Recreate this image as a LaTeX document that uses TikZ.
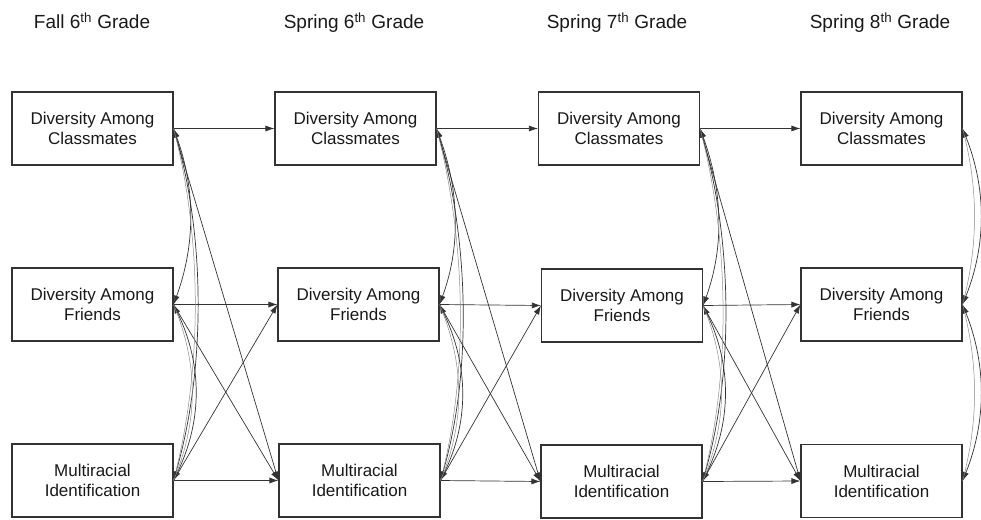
\documentclass[tikz,border=0pt]{standalone}
\usepackage{fontspec}
\setmainfont{Liberation Sans}
\usetikzlibrary{arrows.meta}
\definecolor{ln}{HTML}{333333}
\tikzset{
  box/.style={draw=ln, line width=1.1pt, minimum width=161pt, minimum height=73pt,
    inner sep=0pt, align=center, font=\fontsize{17}{20}\selectfont, text=black!90},
  head/.style={font=\fontsize{19}{22}\selectfont, text=black!90, inner sep=0pt, anchor=base},
  path/.style={draw=ln, line width=0.7pt, -{Latex[length=9pt,width=6pt]}},
  corr/.style={draw=ln, line width=0.7pt, {Latex[length=9pt,width=6pt]}-{Latex[length=9pt,width=6pt]}},
  faint/.style={draw=black!45, line width=0.5pt}
}
\begin{document}
\begin{tikzpicture}[x=1pt,y=-1pt]
\useasboundingbox (0,0) rectangle (981,519);
% headings
\node[head] (h1) at (92,29) {Fall 6\textsuperscript{th} Grade};
\node[head] (h2) at (354,29) {Spring 6\textsuperscript{th} Grade};
\node[head] (h3) at (617,29) {Spring 7\textsuperscript{th} Grade};
\node[head] (h4) at (880,29) {Spring 8\textsuperscript{th} Grade};
% boxes
\node[box] (C1) at (92.5,128.5) {Diversity Among\\Classmates};
\node[box] (F1) at (92.5,304.5) {Diversity Among\\Friends};
\node[box] (M1) at (92.5,480.5) {Multiracial\\Identification};
\node[box] (C2) at (355.5,128.5) {Diversity Among\\Classmates};
\node[box] (F2) at (358.5,304.5) {Diversity Among\\Friends};
\node[box] (M2) at (359.5,480.5) {Multiracial\\Identification};
\node[box] (C3) at (619,128.5) {Diversity Among\\Classmates};
\node[box] (F3) at (622,305.5) {Diversity Among\\Friends};
\node[box] (M3) at (621.5,481.5) {Multiracial\\Identification};
\node[box] (C4) at (881.5,128.5) {Diversity Among\\Classmates};
\node[box] (F4) at (881.5,304.5) {Diversity Among\\Friends};
\node[box] (M4) at (881.5,481) {Multiracial\\Identification};
% cross-lagged paths
\foreach \a/\b in {1/2,2/3,3/4}{
  \draw[path] (C\a.east) -- (C\b.west);
  \draw[path] (F\a.east) -- (F\b.west);
  \draw[path] (M\a.east) -- (M\b.west);
  \draw[path] (C\a.east) -- (M\b.west);
  \draw[path] (F\a.east) -- (M\b.west);
  \draw[path] (M\a.east) -- (F\b.west);
}
% within-time correlations
\foreach \a in {1,2,3}{
  \draw[corr] (C\a.east) .. controls +(22,60) and +(22,-60) .. (F\a.east);
  \draw[corr] (C\a.east) .. controls +(32,110) and +(32,-110) .. (M\a.east);
  \draw[faint] (C\a.east) .. controls +(29,110) and +(29,-110) .. (M\a.east);
  \draw[corr] (F\a.east) .. controls +(29,60) and +(29,-60) .. (M\a.east);
  \draw[faint] (F\a.east) .. controls +(25,60) and +(25,-60) .. (M\a.east);
}
\draw[corr] (C4.east) .. controls +(24,60) and +(24,-60) .. (F4.east);
\draw[faint] (C4.east) .. controls +(16,60) and +(16,-60) .. (F4.east);
\draw[corr] (F4.east) .. controls +(24,60) and +(24,-60) .. (M4.east);
\draw[faint] (F4.east) .. controls +(16,60) and +(16,-60) .. (M4.east);
\end{tikzpicture}
\end{document}
